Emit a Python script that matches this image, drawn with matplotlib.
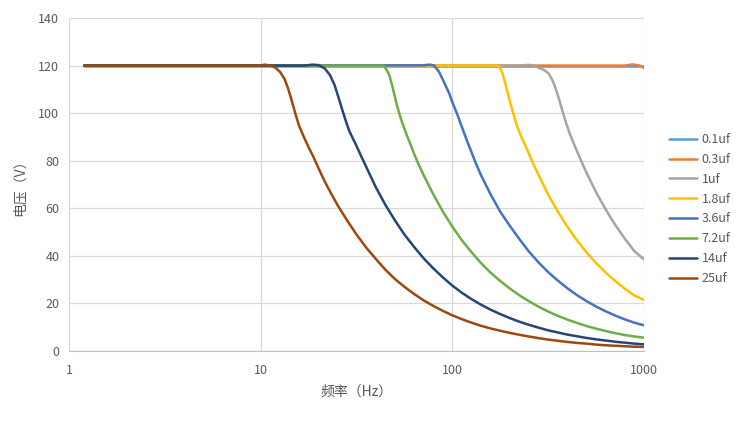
import matplotlib
matplotlib.use("Agg")
import matplotlib.pyplot as plt
from matplotlib.ticker import FixedLocator, FixedFormatter, NullLocator

plt.rcParams['font.family'] = ['Noto Sans CJK SC', 'DejaVu Sans']

# Series data (frequency in Hz, voltage in V)
f_0_1uf = [1.2, 1000]
v_0_1uf = [120, 120]

f_0_3uf = [1.2, 794, 870, 950, 1000]
v_0_3uf = [120, 120, 120.5, 120, 119.0]

f_1uf = [1.2, 224, 251, 270, 283, 300, 318, 332, 346, 360, 375, 390, 406, 430, 447, 474, 501,
         562, 631, 708, 794, 891, 1000]
v_1uf = [120, 120, 120.3, 120, 119, 118.2, 116.7, 114, 110.4, 106, 101, 96.5, 92.3, 87.2, 84, 79.3, 75,
         66.8, 59.5, 53, 47.2, 42, 38.5]

f_1_8uf = [1.2, 170, 176, 183, 190, 198, 206, 212, 218, 228, 241, 251, 266, 282, 316, 355, 398,
           447, 501, 562, 631, 708, 794, 891, 1000]
v_1_8uf = [120, 120, 119.6, 116.5, 111.8, 106, 101, 97.6, 94.4, 90.4, 86.2, 83, 78.2, 74, 65.8, 58.6,
           52.3, 46.5, 41.5, 37, 33, 29.4, 26.2, 23.3, 21.5]

f_3_6uf = [1.2, 70.8, 76, 80, 85.2, 90.5, 96.3, 101, 106.7, 110, 115, 120, 126, 133, 141, 158, 178,
           200, 224, 251, 282, 316, 355, 398, 447, 501, 562, 631, 708, 794, 891, 1000]
v_3_6uf = [120, 120.1, 120.4, 120.1, 117.4, 113, 108.3, 103.8, 99, 96, 91.8, 87.8, 83.5, 78.7, 74, 66,
           58.5, 52.5, 47, 41.8, 37.2, 33.2, 29.6, 26.4, 23.5, 21, 18.7, 16.7, 14.9, 13.3, 11.9, 10.8]

f_7_2uf = [1.2, 39.8, 43.7, 45.2, 46.9, 48.4, 49.9, 51.3, 52.8, 54.5, 56.2, 58.4, 60.6, 63.1, 66.8,
           70.8, 79.4, 89.1, 100, 112, 126, 141, 158, 178, 200, 224, 251, 282, 316, 355, 398, 447,
           501, 562, 631, 708, 794, 891, 1000]
v_7_2uf = [120, 120, 120, 118.5, 116, 112, 107.6, 103.6, 100, 96.5, 93.5, 89.9, 86.7, 83, 78.3, 74, 66,
           58.7, 52.3, 46.6, 41.5, 37, 33, 29.4, 26.2, 23.4, 20.9, 18.6, 16.6, 14.8, 13.2, 11.8,
           10.5, 9.4, 8.4, 7.5, 6.7, 6.1, 5.6]

f_14uf = [1.2, 17.0, 18.7, 20, 21.6, 23, 24.3, 25.5, 26.8, 28, 29.1, 31.5, 33.5, 35.5, 39.8, 44.7,
          50.1, 56.2, 63.1, 70.8, 79.4, 89.1, 100, 112, 126, 141, 158, 178, 200, 224, 251, 282,
          316, 355, 398, 447, 501, 562, 631, 708, 794, 891, 1000]
v_14uf = [120, 120, 120.4, 120.2, 118.8, 116, 111.8, 106.5, 100.8, 96, 92.2, 86.5, 81.8, 77.5, 69,
          61.5, 55, 49, 43.8, 39, 34.8, 31, 27.5, 24.5, 21.8, 19.5, 17.4, 15.5, 13.8, 12.3, 11,
          9.8, 8.7, 7.8, 6.9, 6.2, 5.5, 4.9, 4.4, 3.9, 3.5, 3.1, 2.8]

f_25uf = [1.2, 10, 10.5, 11.2, 11.9, 12.6, 13.3, 13.9, 14.5, 15.0, 15.4, 15.9, 16.8, 17.7, 18.8,
          20, 21.2, 22.4, 25.1, 28.2, 31.6, 35.5, 39.8, 44.7, 50.1, 56.2, 63.1, 70.8, 79.4, 89.1,
          100, 112, 126, 141, 158, 178, 200, 224, 251, 282, 316, 355, 398, 447, 501, 562, 631,
          708, 794, 891, 1000]
v_25uf = [120, 120, 120.4, 120, 119.2, 117.4, 114.5, 110.4, 105.5, 101.2, 98, 94.5, 90, 86, 81.8,
          77, 72.6, 68.8, 61.5, 55, 49, 43.5, 38.8, 34.2, 30.3, 27, 24, 21.3, 19, 16.9, 15.0,
          13.4, 11.9, 10.6, 9.5, 8.5, 7.6, 6.8, 6.1, 5.4, 4.8, 4.3, 3.8, 3.4, 3.1, 2.7, 2.4, 2.2,
          2.0, 1.8, 1.7]

labels = ["0.1uf", "0.3uf", "1uf", "1.8uf", "3.6uf", "7.2uf", "14uf", "25uf"]
colors = ["#5B9BD5", "#ED7D31", "#A5A5A5", "#FFC000", "#4472C4", "#70AD47", "#264478", "#9E480E"]
series = [(f_0_1uf, v_0_1uf), (f_0_3uf, v_0_3uf), (f_1uf, v_1uf), (f_1_8uf, v_1_8uf),
          (f_3_6uf, v_3_6uf), (f_7_2uf, v_7_2uf), (f_14uf, v_14uf), (f_25uf, v_25uf)]

xticks = [1, 10, 100, 1000]
xtick_labels = ["1", "10", "100", "1000"]
yticks = [0, 20, 40, 60, 80, 100, 120, 140]

fig = plt.figure(figsize=(7.5, 4.34), dpi=100)
ax = fig.add_axes([69/750, 1-351/434, (644-69)/750, (351-18)/434])

handles = []
for (fx, vy), name, c in zip(series, labels, colors):
    h, = ax.plot(fx, vy, color=c, lw=1.8, label=name,
                 solid_joinstyle='round', solid_capstyle='round')
    handles.append(h)

ax.set_xscale('log')
ax.set_xlim(1, 1000)
ax.set_ylim(0, 140)
ax.xaxis.set_major_locator(FixedLocator(xticks))
ax.xaxis.set_major_formatter(FixedFormatter(xtick_labels))
ax.xaxis.set_minor_locator(NullLocator())
ax.set_yticks(yticks)

for s in ax.spines.values():
    s.set_visible(False)
ax.spines['bottom'].set_visible(True)
ax.spines['bottom'].set_color('#BFBFBF')
ax.grid(True, which='major', color='#D9D9D9', lw=0.9)
ax.set_axisbelow(True)
ax.tick_params(axis='both', length=0, colors='#595959', labelsize=9)
ax.tick_params(axis='x', pad=9)
ax.tick_params(axis='y', pad=7)

ax.set_xlabel("频率（Hz）", fontsize=10, color='#595959', labelpad=6)
ax.set_ylabel("电压（V）", fontsize=10, color='#595959', labelpad=8)

fig.legend(handles=handles, loc='upper left', bbox_to_anchor=(664/750, 1-128/434),
           frameon=False, fontsize=9, handlelength=2.2, handletextpad=0.4,
           labelspacing=0.55, borderaxespad=0, labelcolor='#595959')

fig.savefig("out.png", dpi=100)
